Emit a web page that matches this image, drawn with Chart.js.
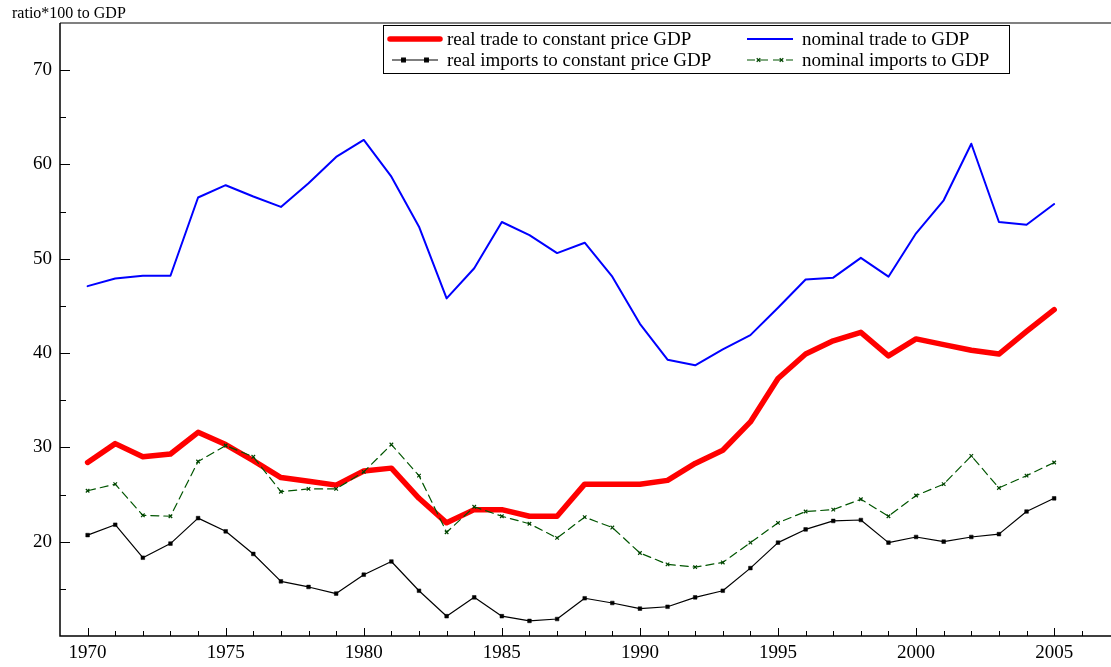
<!DOCTYPE html>
<html>
<head>
<meta charset="utf-8">
<script src="https://cdn.jsdelivr.net/npm/chart.js@4.4.1/dist/chart.umd.min.js"></script>
<style>
  html, body { margin: 0; padding: 0; background: #fff; }
  #wrap { position: relative; width: 1111px; height: 667px; }
</style>
</head>
<body>
<div id="wrap"><canvas id="chart" width="1111" height="667"></canvas></div>
<script>
// data, one value per year 1970..2005
const YEARS = [1970,1971,1972,1973,1974,1975,1976,1977,1978,1979,1980,1981,1982,1983,1984,1985,1986,1987,
  1988,1989,1990,1991,1992,1993,1994,1995,1996,1997,1998,1999,2000,2001,2002,2003,2004,2005];
const REAL_TRADE = [28.4,30.4,29.0,29.3,31.6,30.3,28.6,26.8,26.4,26.0,27.5,27.8,24.6,22.0,23.4,23.4,22.7,22.7,
  26.1,26.1,26.1,26.5,28.3,29.7,32.7,37.3,39.9,41.3,42.2,39.7,41.5,40.9,40.3,39.9,42.3,44.6];
const NOMINAL_TRADE = [47.1,47.9,48.2,48.2,56.5,57.8,56.6,55.5,58.0,60.8,62.6,58.7,53.4,45.8,49.0,53.9,52.5,50.6,
  51.7,48.1,43.1,39.3,38.7,40.4,41.9,44.8,47.8,48.0,50.1,48.1,52.7,56.2,62.2,53.9,53.6,55.8];
const REAL_IMPORTS = [20.7,21.8,18.3,19.8,22.5,21.1,18.7,15.8,15.2,14.5,16.5,17.9,14.8,12.1,14.1,12.1,11.6,11.8,
  14.0,13.5,12.9,13.1,14.1,14.8,17.2,19.9,21.3,22.2,22.3,19.9,20.5,20.0,20.5,20.8,23.2,24.6];
const NOMINAL_IMPORTS = [25.4,26.1,22.8,22.7,28.5,30.2,29.0,25.3,25.6,25.6,27.4,30.3,27.0,21.0,23.7,22.7,21.9,20.4,
  22.6,21.5,18.8,17.6,17.3,17.8,19.9,22.0,23.2,23.4,24.5,22.7,24.9,26.1,29.1,25.7,27.0,28.4];

const Y_LABELS = [20, 30, 40, 50, 60, 70];
const Y_MINOR = [15, 25, 35, 45, 55, 65];
const X_MAJOR = [1970, 1975, 1980, 1985, 1990, 1995, 2000, 2005];

const FONT = '"Liberation Serif", "DejaVu Serif", serif';

function pts(vals) {
  return vals.map((v, i) => ({ x: YEARS[i], y: v }));
}

// inward ticks, axis lines, frame top, title and legend box
const decorPlugin = {
  id: 'decor',
  afterDraw(chart) {
    const ctx = chart.ctx;
    const a = chart.chartArea;
    const xs = chart.scales.x, ys = chart.scales.y;
    ctx.save();

    // top frame line (grey)
    ctx.strokeStyle = '#808080';
    ctx.lineWidth = 2;
    ctx.beginPath();
    ctx.moveTo(a.left, a.top);
    ctx.lineTo(chart.width, a.top);
    ctx.stroke();

    // axes
    ctx.strokeStyle = '#000';
    ctx.lineWidth = 1.5;
    ctx.beginPath();
    ctx.moveTo(a.left, a.top);
    ctx.lineTo(a.left, a.bottom);
    ctx.lineTo(chart.width, a.bottom);
    ctx.stroke();

    // x ticks, every year, longer every 5
    ctx.lineWidth = 1;
    ctx.beginPath();
    for (let yr = 1970; yr <= 2006; yr++) {
      const px = Math.round(xs.getPixelForValue(yr)) + 0.5;
      const len = yr % 5 === 0 ? 8 : 5;
      ctx.moveTo(px, a.bottom);
      ctx.lineTo(px, a.bottom - len);
    }
    // y ticks
    Y_LABELS.forEach(v => {
      const py = Math.round(ys.getPixelForValue(v)) + 0.5;
      ctx.moveTo(a.left, py);
      ctx.lineTo(a.left + 10, py);
    });
    Y_MINOR.forEach(v => {
      const py = Math.round(ys.getPixelForValue(v)) + 0.5;
      ctx.moveTo(a.left, py);
      ctx.lineTo(a.left + 6, py);
    });
    ctx.stroke();

    // title
    ctx.fillStyle = '#000';
    ctx.font = '16px ' + FONT;
    ctx.textBaseline = 'middle';
    ctx.textAlign = 'left';
    ctx.fillText('ratio*100 to GDP', 12, 14);

    // legend
    ctx.fillStyle = '#fff';
    ctx.fillRect(383, 25, 626, 48);
    ctx.strokeStyle = '#000';
    ctx.lineWidth = 1;
    ctx.strokeRect(383.5, 25.5, 626, 48);

    const ds = chart.data.datasets;
    const entries = [
      { d: ds[0], x0: 390, x1: 440, tx: 447, y: 39 },
      { d: ds[1], x0: 747, x1: 793, tx: 802, y: 39 },
      { d: ds[2], x0: 392, x1: 438, tx: 447, y: 60 },
      { d: ds[3], x0: 747, x1: 793, tx: 802, y: 60 }
    ];
    entries.forEach(e => {
      const d = e.d;
      ctx.strokeStyle = d.borderColor;
      ctx.lineWidth = d.borderWidth;
      ctx.lineCap = d.borderWidth > 3 ? 'round' : 'butt';
      ctx.setLineDash(d.borderDash || []);
      ctx.beginPath();
      ctx.moveTo(e.x0, e.y);
      ctx.lineTo(e.x1, e.y);
      ctx.stroke();
      ctx.setLineDash([]);
      if (d.pointRadius > 0) {
        const w = e.x1 - e.x0;
        ctx.fillStyle = d.pointBackgroundColor;
        ctx.strokeStyle = d.pointBorderColor;
        [e.x0 + w * 0.25, e.x0 + w * 0.75].forEach(mx => {
          Chart.helpers.drawPoint(ctx, {
            pointStyle: d.pointStyle, radius: d.pointRadius, borderWidth: 1.2, rotation: 0
          }, mx, e.y);
        });
      }
      ctx.fillStyle = '#000';
      ctx.font = '19px ' + FONT;
      ctx.textBaseline = 'middle';
      ctx.fillText(d.label, e.tx, e.y + 1);
    });

    ctx.restore();
  }
};

new Chart(document.getElementById('chart'), {
  type: 'line',
  data: {
    datasets: [
      {
        label: 'real trade to constant price GDP',
        data: pts(REAL_TRADE),
        borderColor: '#ff0000',
        borderWidth: 5.5,
        pointRadius: 0,
        order: 3
      },
      {
        label: 'nominal trade to GDP',
        data: pts(NOMINAL_TRADE),
        borderColor: '#0000ff',
        borderWidth: 2,
        pointRadius: 0,
        order: 2
      },
      {
        label: 'real imports to constant price GDP',
        data: pts(REAL_IMPORTS),
        borderColor: '#000000',
        borderWidth: 1.2,
        pointStyle: 'rect',
        pointRadius: 2.6,
        pointBackgroundColor: '#000',
        pointBorderColor: '#000',
        pointBorderWidth: 0.5,
        order: 1
      },
      {
        label: 'nominal imports to GDP',
        data: pts(NOMINAL_IMPORTS),
        borderColor: '#005500',
        borderWidth: 1.2,
        borderDash: [8, 5],
        pointStyle: 'crossRot',
        pointRadius: 2.5,
        pointBackgroundColor: '#004400',
        pointBorderColor: '#004400',
        pointBorderWidth: 1.2,
        order: 0
      }
    ]
  },
  options: {
    responsive: false,
    animation: false,
    events: [],
    layout: { padding: { top: 23, right: 0, left: 0, bottom: 0 } },
    plugins: {
      legend: { display: false },
      tooltip: { enabled: false }
    },
    elements: { line: { tension: 0, borderJoinStyle: 'round', borderCapStyle: 'round' } },
    scales: {
      x: {
        type: 'linear',
        min: 1969,
        max: 2006.87,
        grid: { display: false, drawTicks: false },
        border: { display: false },
        afterBuildTicks: s => { s.ticks = X_MAJOR.map(v => ({ value: v })); },
        afterFit: s => { s.height = 31; },
        ticks: {
          autoSkip: false,
          maxRotation: 0,
          padding: 6,
          color: '#000',
          font: { family: FONT, size: 19 },
          callback: v => String(v)
        }
      },
      y: {
        min: 10,
        max: 75,
        grid: { display: false, drawTicks: false },
        border: { display: false },
        afterBuildTicks: s => { s.ticks = Y_LABELS.map(v => ({ value: v })); },
        afterFit: s => { s.width = 60; },
        ticks: {
          padding: 8,
          color: '#000',
          font: { family: FONT, size: 19 },
          callback: v => String(v)
        }
      }
    }
  },
  plugins: [decorPlugin]
});
</script>
</body>
</html>
